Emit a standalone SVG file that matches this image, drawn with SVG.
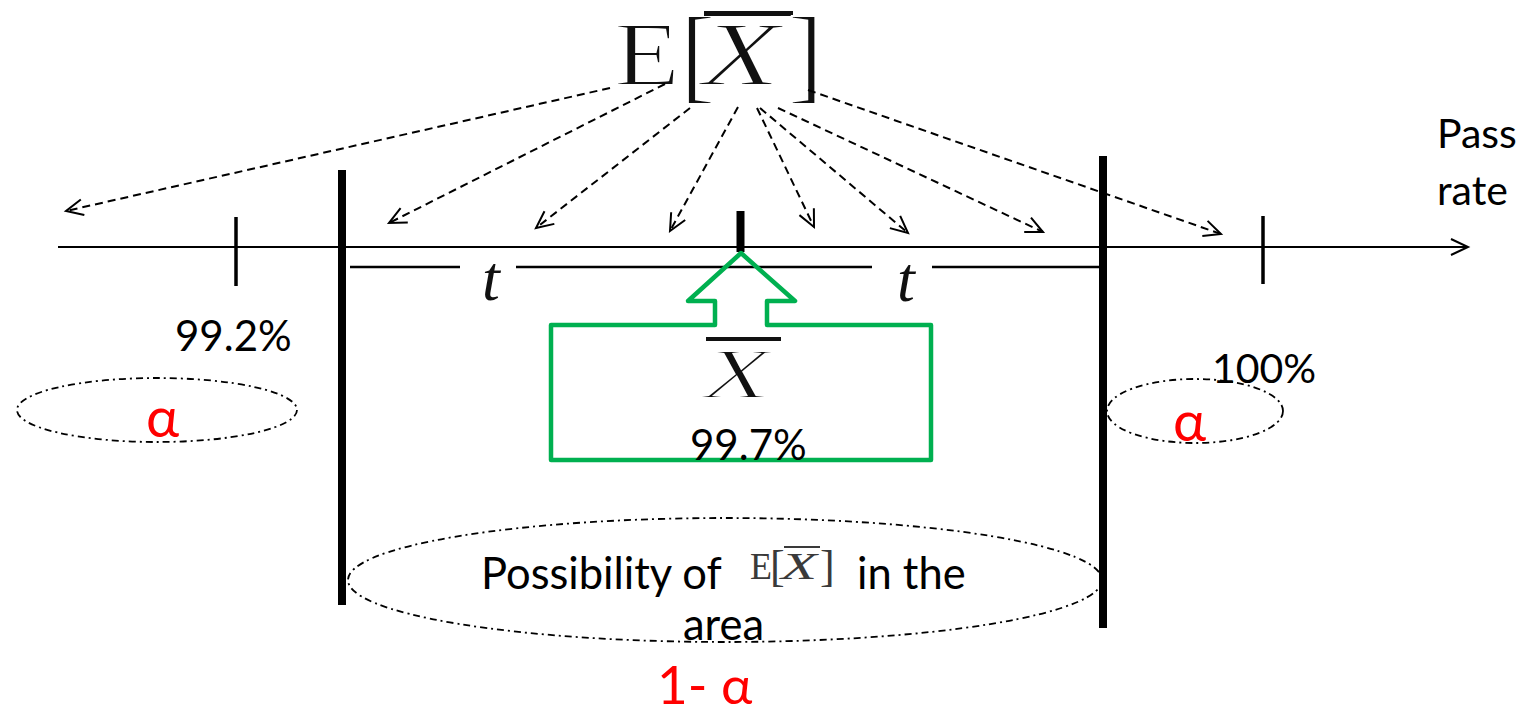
<svg xmlns="http://www.w3.org/2000/svg" width="1528" height="710" viewBox="0 0 1528 710">
<style>
.serif{font-family:"Liberation Serif","Times New Roman",serif;fill:#111}
.thinner{stroke:#fff;stroke-width:2}
.it{font-style:italic}
.sans{font-family:Lato,"Liberation Sans",sans-serif;fill:#000}
.red{fill:#ff0000}
.dash{stroke:#000;stroke-width:2;stroke-dasharray:8 5;fill:none}
.dd{stroke:#000;stroke-width:1.8;stroke-dasharray:7 4 2 4;fill:none}
.bar{stroke:#000;stroke-width:8}
.thin{stroke:#000;stroke-width:2.5}
</style>
<defs>
<marker id="ah" markerUnits="userSpaceOnUse" markerWidth="22" markerHeight="22" refX="19" refY="10" orient="auto">
<path d="M2,2 L19,10 L2,18" fill="none" stroke="#000" stroke-width="2" stroke-dasharray="none"/>
</marker>
</defs>
<rect width="1528" height="710" fill="#fff"/>

<g id="axis">
<line x1="58" y1="247" x2="1468" y2="247" stroke="#000" stroke-width="2.2" marker-end="url(#ah)"/>
<line x1="236" y1="217" x2="236" y2="286" stroke="#000" stroke-width="3.5"/>
<line x1="1263" y1="216" x2="1263" y2="284" stroke="#000" stroke-width="3.5"/>
<line x1="740.5" y1="211" x2="740.5" y2="252" class="bar"/>
<line x1="342" y1="170" x2="342" y2="605" class="bar"/>
<line x1="1103" y1="156" x2="1103" y2="628" class="bar"/>
<line x1="350" y1="267" x2="460" y2="267" class="thin"/>
<line x1="516" y1="267" x2="872" y2="267" class="thin"/>
<line x1="932" y1="267" x2="1100" y2="267" class="thin"/>
</g>

<g id="label-pass-rate">
<text class="sans" x="1437" y="148" font-size="41">Pass</text>
<text class="sans" x="1437" y="205" font-size="41">rate</text>
</g>

<g id="label-top-EX">
<text class="serif thinner" x="614" y="85" font-size="92" textLength="66" lengthAdjust="spacingAndGlyphs">E</text>
<text class="serif thinner" x="680" y="90" font-size="106">[</text>
<text class="serif it thinner" x="702" y="85" font-size="92" textLength="78" lengthAdjust="spacingAndGlyphs">X</text>
<rect x="704" y="11" width="89" height="5" fill="#111"/>
<text class="serif thinner" x="788" y="90" font-size="106">]</text>
</g>

<g id="connectors">
<line class="dash" x1="610" y1="88" x2="66" y2="211" marker-end="url(#ah)"/>
<line class="dash" x1="665" y1="84" x2="389" y2="223" marker-end="url(#ah)"/>
<line class="dash" x1="690" y1="108" x2="536" y2="228" marker-end="url(#ah)"/>
<line class="dash" x1="738" y1="107" x2="670" y2="231" marker-end="url(#ah)"/>
<line class="dash" x1="757" y1="108" x2="814" y2="227" marker-end="url(#ah)"/>
<line class="dash" x1="760" y1="108" x2="908" y2="233" marker-end="url(#ah)"/>
<line class="dash" x1="778" y1="108" x2="1043" y2="232" marker-end="url(#ah)"/>
<line class="dash" x1="808" y1="90" x2="1221" y2="234" marker-end="url(#ah)"/>
</g>

<g id="label-t-left">
<text class="serif it" x="482" y="300" font-size="64">t</text>
</g>
<g id="label-t-right">
<text class="serif it" x="897" y="301" font-size="64">t</text>
</g>

<g id="green-arrow">
<polygon points="741,253 795,301 767,301 767,325 931,325 931,460 551,460 551,325 715,325 715,301 688,301" fill="none" stroke="#00b050" stroke-width="4.5" stroke-linejoin="round"/>
</g>

<g id="label-xbar">
<rect x="706" y="337" width="75" height="4" fill="#111"/>
<text class="serif it thinner" x="703" y="398" font-size="72" textLength="68" lengthAdjust="spacingAndGlyphs">X</text>
</g>

<g id="label-997">
<text class="sans" x="690" y="460" font-size="42">99.7%</text>
</g>
<g id="label-992">
<text class="sans" x="175" y="351" font-size="42">99.2%</text>
</g>
<g id="label-100">
<text class="sans" x="1212" y="383" font-size="41">100%</text>
</g>

<g id="left-alpha">
<ellipse class="dd" cx="157" cy="410" rx="140" ry="32"/>
<text class="sans red" x="146" y="437" font-size="56">α</text>
</g>
<g id="right-alpha">
<ellipse class="dd" cx="1195" cy="411" rx="88" ry="32"/>
<text class="sans red" x="1173" y="441" font-size="56">α</text>
</g>

<g id="center-region">
<ellipse class="dd" cx="725" cy="580" rx="377" ry="62"/>
<text class="sans" x="481" y="589" font-size="43.5">Possibility of</text>
<text class="serif" x="750" y="579" font-size="38" style="fill:#3a3a3a" textLength="22" lengthAdjust="spacingAndGlyphs">E</text>
<text class="serif" x="770" y="581" font-size="44" style="fill:#3a3a3a">[</text>
<text class="serif it" x="781" y="579" font-size="38" style="fill:#3a3a3a" textLength="36" lengthAdjust="spacingAndGlyphs">X</text>
<rect x="784" y="546" width="36" height="2" fill="#3a3a3a"/>
<text class="serif" x="820" y="581" font-size="44" style="fill:#3a3a3a">]</text>
<text class="sans" x="857" y="589" font-size="43.5">in the</text>
<text class="sans" x="683" y="640" font-size="43.5">area</text>
<text class="sans red" x="657" y="704" font-size="53">1- α</text>
</g>
</svg>
